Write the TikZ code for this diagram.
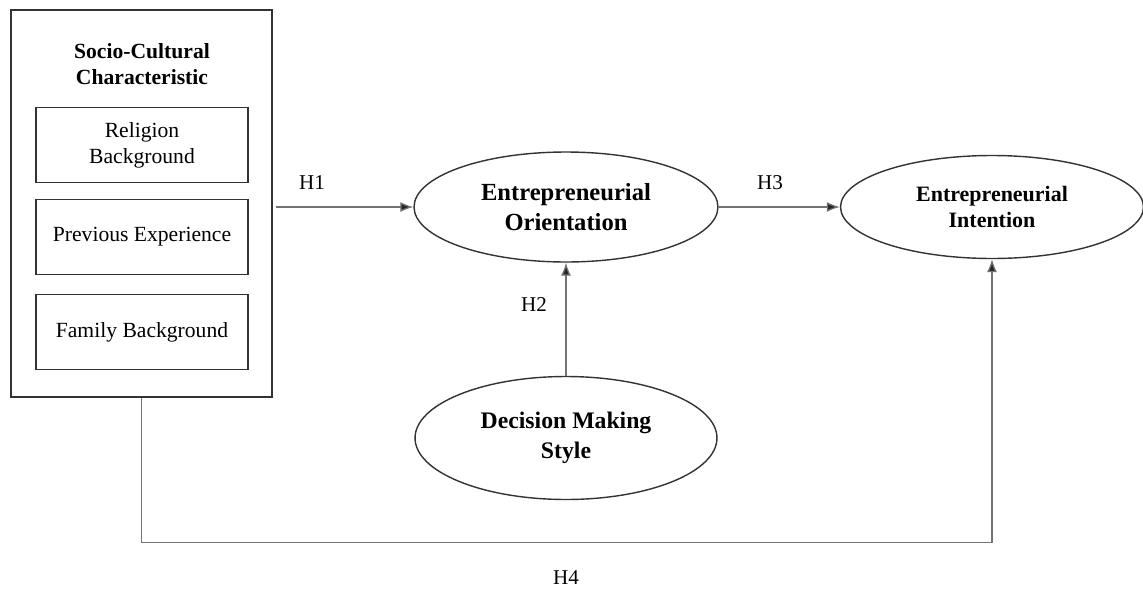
\documentclass[tikz,border=0pt]{standalone}
\usepackage{fontspec}
\setmainfont{Liberation Serif}
\usetikzlibrary{shapes.geometric,arrows.meta}

\tikzset{
  bigbox/.style={draw=black!80,line width=0.9pt,minimum width=5.22cm,minimum height=7.74cm,inner sep=0},
  itembox/.style={draw=black!80,line width=0.9pt,minimum width=4.24cm,minimum height=1.5cm,inner sep=0,
    align=center,font=\fontsize{12.3}{14.8}\selectfont},
  construct/.style={ellipse,draw=black!80,line width=0.8pt,inner sep=0,align=center},
  conn/.style={draw=black!55,line width=0.7pt,-{Latex[length=2.6mm,width=2mm,fill=black!85]}},
  hyp/.style={font=\fontsize{12}{14}\selectfont}
}

\begin{document}
\begin{tikzpicture}[x=0.02cm,y=-0.02cm]
\useasboundingbox (0,0) rectangle (1143,589);

% left block
\node[bigbox] (socio) at (141.5,203.5) {};
\node[align=center,font=\fontsize{12.3}{14.8}\selectfont\bfseries] (sociotitle) at (142,64) {Socio-Cultural\\Characteristic};
\node[itembox] (religion) at (142,145) {Religion\\Background};
\node[itembox] (experience) at (142,237) {Previous Experience};
\node[itembox] (family) at (142,332) {Family Background};

% constructs
\node[construct,minimum width=6.08cm,minimum height=2.2cm,font=\fontsize{14}{17}\selectfont\bfseries] (orient) at (566,207) {Entrepreneurial\\Orientation};
\node[construct,minimum width=6.06cm,minimum height=2.06cm,font=\fontsize{12.5}{15}\selectfont\bfseries] (intent) at (992,207) {Entrepreneurial\\Intention};
\node[construct,minimum width=6.04cm,minimum height=2.46cm,font=\fontsize{13.5}{17}\selectfont\bfseries] (decision) at (566,438) {Decision Making\\Style};

% hypotheses
\draw[conn] (socio.east |- orient.west) ++(3,0) -- (orient.west);
\draw[conn] (orient.east) -- (intent.west);
\draw[conn] (decision.north) -- (orient.south);
\draw[conn] (socio.south) -- ++(0,145) -| (intent.south);

\node[hyp] (h1) at (312,183) {H1};
\node[hyp] (h3) at (770,183) {H3};
\node[hyp] (h2) at (534,305) {H2};
\node[hyp] (h4) at (566,578) {H4};
\end{tikzpicture}
\end{document}
